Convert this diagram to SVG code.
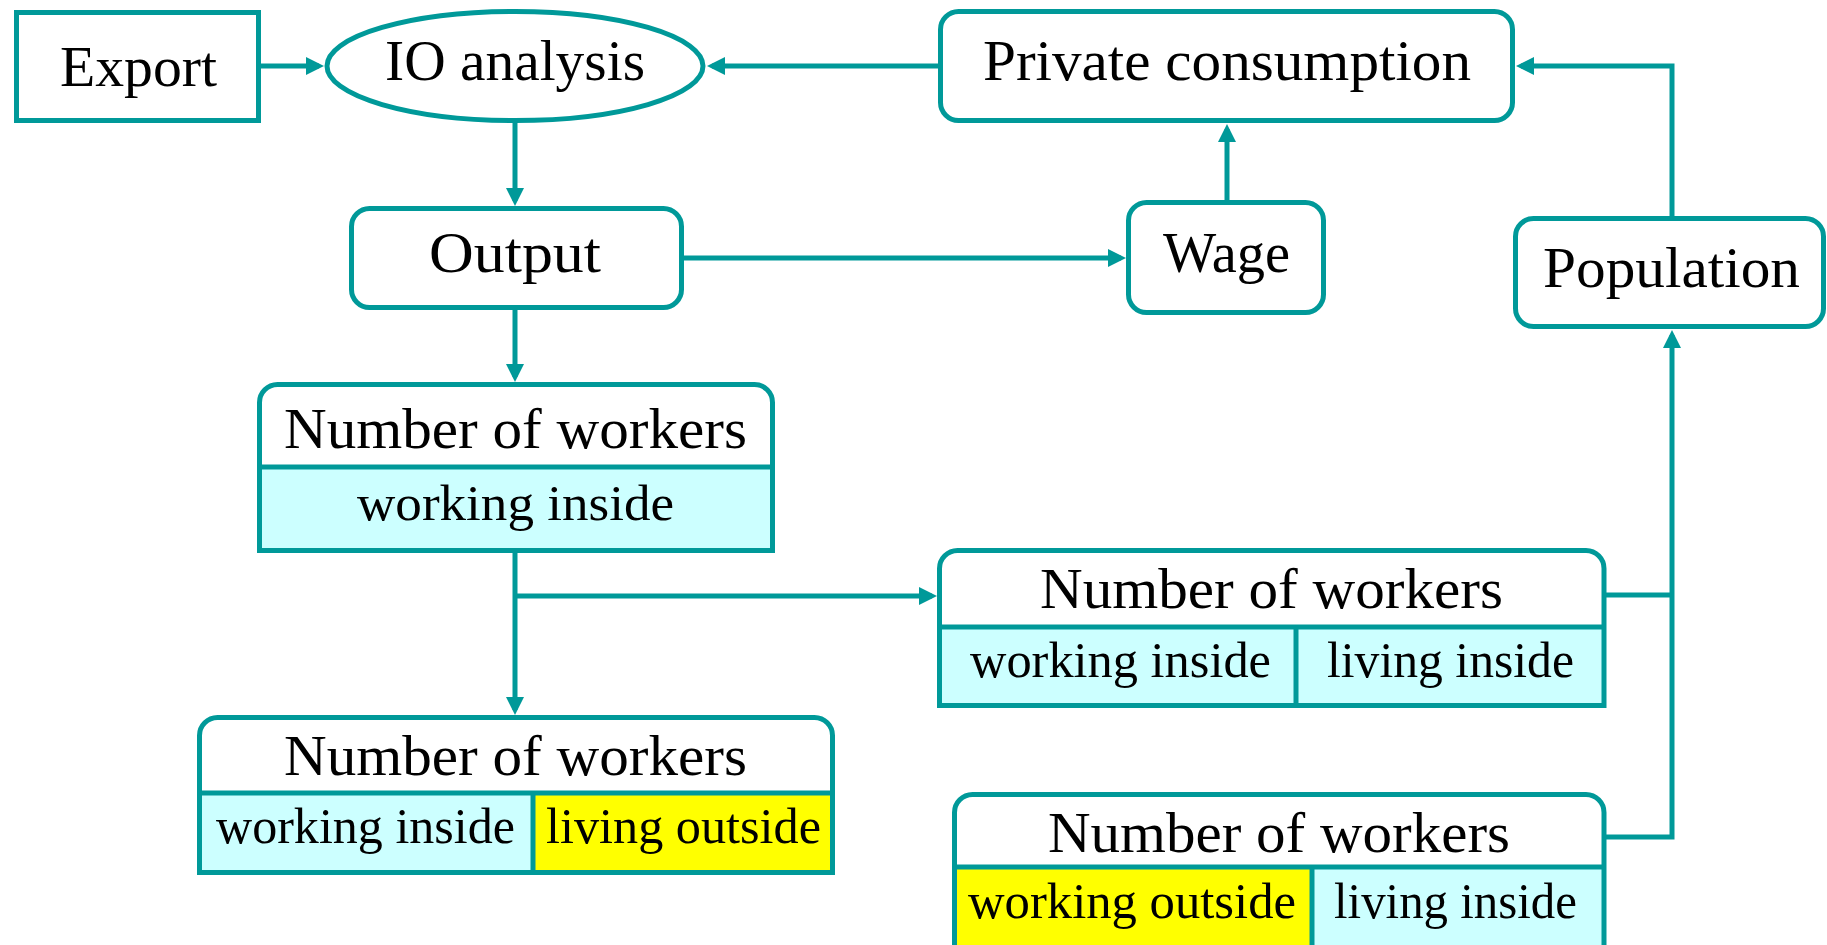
<svg xmlns="http://www.w3.org/2000/svg" width="1827" height="945" viewBox="0 0 1827 945">
<defs>
<marker id="arr" viewBox="0 0 18 18" refX="13" refY="9" markerWidth="18" markerHeight="18" markerUnits="userSpaceOnUse" orient="auto">
<path d="M0,0 L18,9 L0,18 Z" fill="#009999"/>
</marker>
<style>
.box{fill:#ffffff;stroke:#009999;stroke-width:5}
.ln{fill:none;stroke:#009999;stroke-width:5}
.edge{fill:none;stroke:#009999;stroke-width:5}
.cyan{fill:#ccffff}
.yel{fill:#ffff00}
text{font-family:"Liberation Serif","Times New Roman",serif;fill:#000000;text-anchor:middle}
.h{font-size:56px}
.c{font-size:50px}
</style>
</defs>
<rect width="1827" height="945" fill="#ffffff"/>
<g id="connectors">
<path class="edge" d="M261,66 L319,66" marker-end="url(#arr)"/>
<path class="edge" d="M938,66 L712,66" marker-end="url(#arr)"/>
<path class="edge" d="M515,123 L515,201" marker-end="url(#arr)"/>
<path class="edge" d="M684,258 L1121,258" marker-end="url(#arr)"/>
<path class="edge" d="M1227,200 L1227,129" marker-end="url(#arr)"/>
<path class="edge" d="M1672,216 L1672,66 L1521,66" marker-end="url(#arr)"/>
<path class="edge" d="M515,310 L515,377" marker-end="url(#arr)"/>
<path class="edge" d="M515,553 L515,710" marker-end="url(#arr)"/>
<path class="edge" d="M515,596 L932,596" marker-end="url(#arr)"/>
<path class="edge" d="M1606,595 L1672,595"/>
<path class="edge" d="M1606,837 L1672,837 L1672,335" marker-end="url(#arr)"/>
</g>
<g id="export">
<rect class="box" x="16.5" y="12.5" width="242" height="108"/>
<text class="h" x="138.5" y="86" textLength="157" lengthAdjust="spacingAndGlyphs">Export</text>
</g>
<g id="io-analysis">
<ellipse class="box" cx="515" cy="66" rx="188" ry="54.5"/>
<text class="h" x="515" y="80" textLength="260" lengthAdjust="spacingAndGlyphs">IO analysis</text>
</g>
<g id="private-consumption">
<rect class="box" x="940.5" y="11.5" width="572" height="109" rx="18"/>
<text class="h" x="1227" y="80" textLength="488" lengthAdjust="spacingAndGlyphs">Private consumption</text>
</g>
<g id="output">
<rect class="box" x="351.5" y="208.5" width="330" height="99" rx="18"/>
<text class="h" x="515" y="272" textLength="172" lengthAdjust="spacingAndGlyphs">Output</text>
</g>
<g id="wage">
<rect class="box" x="1128.5" y="202.5" width="195" height="110" rx="18"/>
<text class="h" x="1226.5" y="272" textLength="127" lengthAdjust="spacingAndGlyphs">Wage</text>
</g>
<g id="population">
<rect class="box" x="1515.5" y="218.5" width="308" height="108" rx="18"/>
<text class="h" x="1671.5" y="287" textLength="257" lengthAdjust="spacingAndGlyphs">Population</text>
</g>
<g id="workers-inside">
<path d="M259.5,550.5 V402.5 A18,18 0 0 1 277.5,384.5 H754.5 A18,18 0 0 1 772.5,402.5 V550.5 Z" fill="#ffffff"/>
<rect class="cyan" x="259.5" y="467" width="513" height="83.5"/>
<line class="ln" x1="259.5" y1="467" x2="772.5" y2="467"/>
<path class="ln" d="M259.5,550.5 V402.5 A18,18 0 0 1 277.5,384.5 H754.5 A18,18 0 0 1 772.5,402.5 V550.5 Z"/>
<text class="h" x="515.5" y="448" textLength="463" lengthAdjust="spacingAndGlyphs">Number of workers</text>
<text class="c" x="515.5" y="520" textLength="317" lengthAdjust="spacingAndGlyphs">working inside</text>
</g>
<g id="workers-inside-living-outside">
<path d="M199.5,872.5 V735.5 A18,18 0 0 1 217.5,717.5 H814.5 A18,18 0 0 1 832.5,735.5 V872.5 Z" fill="#ffffff"/>
<rect class="cyan" x="199.5" y="793" width="333.5" height="79.5"/>
<rect class="yel" x="533" y="793" width="299.5" height="79.5"/>
<line class="ln" x1="199.5" y1="793" x2="832.5" y2="793"/>
<line class="ln" x1="533" y1="793" x2="533" y2="872.5"/>
<path class="ln" d="M199.5,872.5 V735.5 A18,18 0 0 1 217.5,717.5 H814.5 A18,18 0 0 1 832.5,735.5 V872.5 Z"/>
<text class="h" x="515.5" y="775" textLength="463" lengthAdjust="spacingAndGlyphs">Number of workers</text>
<text class="c" x="365.5" y="843" textLength="299" lengthAdjust="spacingAndGlyphs">working inside</text>
<text class="c" x="683.5" y="843" textLength="275" lengthAdjust="spacingAndGlyphs">living outside</text>
</g>
<g id="workers-inside-living-inside">
<path d="M939.5,705.5 V568.5 A18,18 0 0 1 957.5,550.5 H1586 A18,18 0 0 1 1604,568.5 V705.5 Z" fill="#ffffff"/>
<rect class="cyan" x="939.5" y="627" width="664.5" height="78.5"/>
<line class="ln" x1="939.5" y1="627" x2="1604" y2="627"/>
<line class="ln" x1="1296" y1="627" x2="1296" y2="705.5"/>
<path class="ln" d="M939.5,705.5 V568.5 A18,18 0 0 1 957.5,550.5 H1586 A18,18 0 0 1 1604,568.5 V705.5 Z"/>
<text class="h" x="1271.5" y="608" textLength="463" lengthAdjust="spacingAndGlyphs">Number of workers</text>
<text class="c" x="1120.5" y="677" textLength="301" lengthAdjust="spacingAndGlyphs">working inside</text>
<text class="c" x="1450.5" y="677" textLength="247" lengthAdjust="spacingAndGlyphs">living inside</text>
</g>
<g id="workers-outside-living-inside">
<path d="M954.5,960 V812.5 A18,18 0 0 1 972.5,794.5 H1586 A18,18 0 0 1 1604,812.5 V960 Z" fill="#ffffff"/>
<rect class="yel" x="954.5" y="867" width="357.5" height="93"/>
<rect class="cyan" x="1312" y="867" width="292" height="93"/>
<line class="ln" x1="954.5" y1="867" x2="1604" y2="867"/>
<line class="ln" x1="1312" y1="867" x2="1312" y2="960"/>
<path class="ln" d="M954.5,960 V812.5 A18,18 0 0 1 972.5,794.5 H1586 A18,18 0 0 1 1604,812.5 V960 Z"/>
<text class="h" x="1279" y="852" textLength="462" lengthAdjust="spacingAndGlyphs">Number of workers</text>
<text class="c" x="1132" y="918" textLength="328" lengthAdjust="spacingAndGlyphs">working outside</text>
<text class="c" x="1455.5" y="918" textLength="243" lengthAdjust="spacingAndGlyphs">living inside</text>
</g>
</svg>
